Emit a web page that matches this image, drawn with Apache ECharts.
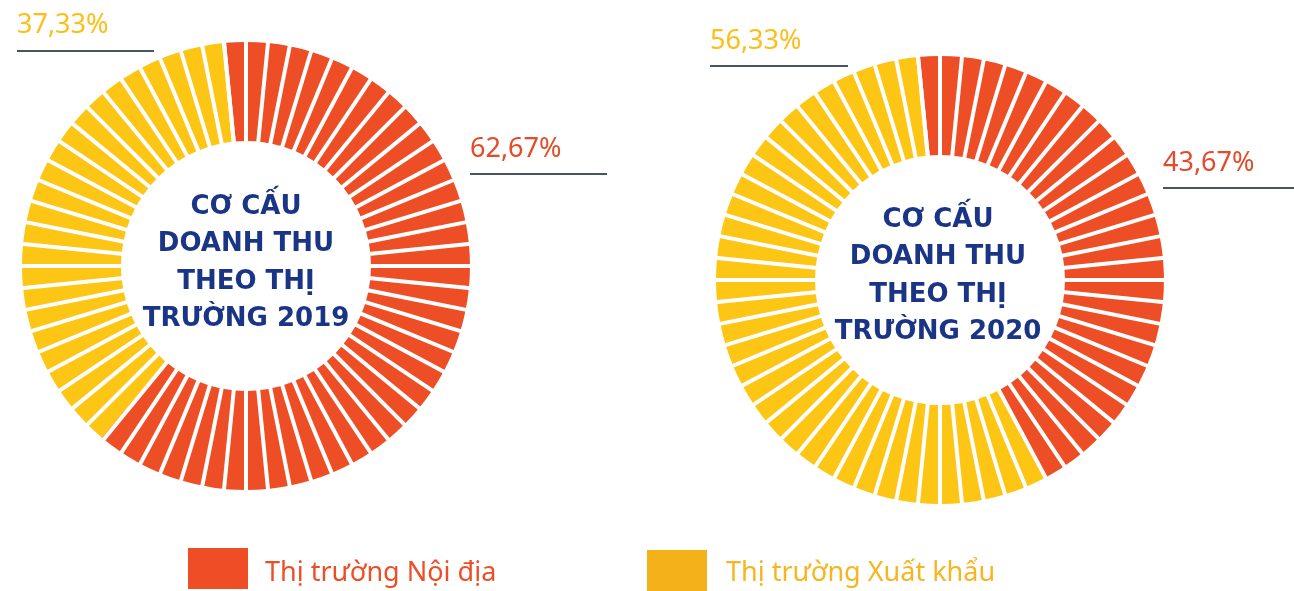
<!DOCTYPE html>
<html>
<head>
<meta charset="utf-8">
<script src="https://cdn.jsdelivr.net/npm/echarts@6/dist/echarts.min.js"></script>
<style>
  html, body { margin: 0; padding: 0; background: #fff; }
  #main { width: 1294px; height: 591px; }
</style>
</head>
<body>
<div id="main"></div>
<script>
// số liệu
var years = ['2019', '2020'];
var domesticShare = [62.67, 43.67];   // Thị trường Nội địa (%)
var exportShare = [37.33, 56.33];     // Thị trường Xuất khẩu (%)
var markets = ['Thị trường Nội địa', 'Thị trường Xuất khẩu'];
var centerTitle = 'CƠ CẤU\nDOANH THU\nTHEO THỊ\nTRƯỜNG ';

var RED = '#EE4E26', YELLOW = '#FDC514';
var NAVY = '#1B3586', LINE = '#48545E';

// vị trí từng vòng
var rings = [
  { center: [246, 266], title: [246, 263],
    exp: { x: 17, y: 25, lx: [17, 154], ly: 51 },
    dom: { x: 470, y: 149, lx: [470, 607], ly: 174 } },
  { center: [940, 280], title: [938, 276],
    exp: { x: 710, y: 41, lx: [710, 848], ly: 66 },
    dom: { x: 1163, y: 163, lx: [1163, 1294], ly: 188 } }
];

function fmt(v) { return v.toFixed(2).replace('.', ',') + '%'; }

var series = [];
var graphic = [];
var segs = 64, outerR = 224, ringW = 99;
var step = 360 / segs;

years.forEach(function (y, i) {
  var r = rings[i];
  var total = domesticShare[i] + exportShare[i];
  series.push({
    type: 'gauge',
    center: r.center,
    radius: outerR,
    startAngle: 90 + step,
    endAngle: 90 + step - 360,
    min: 0, max: total,
    splitNumber: segs,
    axisLine: { lineStyle: { width: ringW, color: [[domesticShare[i] / total, RED], [1, YELLOW]] } },
    splitLine: { show: true, distance: -ringW - 2, length: ringW + 4, lineStyle: { color: '#fff', width: 4, cap: 'butt' } },
    axisTick: { show: false },
    axisLabel: { show: false },
    pointer: { show: false },
    anchor: { show: false },
    progress: { show: false },
    title: { show: false },
    detail: { show: false },
    data: [{ value: domesticShare[i], name: markets[0] }]
  });

  graphic.push({
    type: 'text', x: r.title[0], y: r.title[1],
    style: { text: centerTitle + y, fill: NAVY, font: 'bold 26px "DejaVu Sans"', align: 'center', verticalAlign: 'middle', lineHeight: 37.5 }
  });

  [['exp', exportShare[i], '#FDBE16'], ['dom', domesticShare[i], '#E34B29']].forEach(function (d) {
    var p = r[d[0]];
    graphic.push({
      type: 'text', x: p.x, y: p.y,
      style: { text: fmt(d[1]), fill: d[2], font: '27px "Noto Sans"', align: 'left', verticalAlign: 'middle' }
    });
    graphic.push({
      type: 'line', shape: { x1: p.lx[0], y1: p.ly, x2: p.lx[1], y2: p.ly },
      style: { stroke: LINE, lineWidth: 2 }
    });
  });
});

// chú thích
var legendPos = [{ x: 188, y: 548, tx: 265, c: '#EE4D25', tc: '#EE4E27' },
                 { x: 647, y: 550, tx: 726, c: '#F5B11A', tc: '#F7B51F' }];
markets.forEach(function (m, i) {
  var l = legendPos[i];
  graphic.push({ type: 'rect', shape: { x: l.x, y: l.y, width: 60, height: 41 }, style: { fill: l.c } });
  graphic.push({
    type: 'text', x: l.tx, y: 573,
    style: { text: m, fill: l.tc, font: '27px "Noto Sans"', align: 'left', verticalAlign: 'middle' }
  });
});

var myChart = echarts.init(document.getElementById('main'));
myChart.setOption({
  animation: false,
  series: series,
  graphic: graphic
});
</script>
</body>
</html>
